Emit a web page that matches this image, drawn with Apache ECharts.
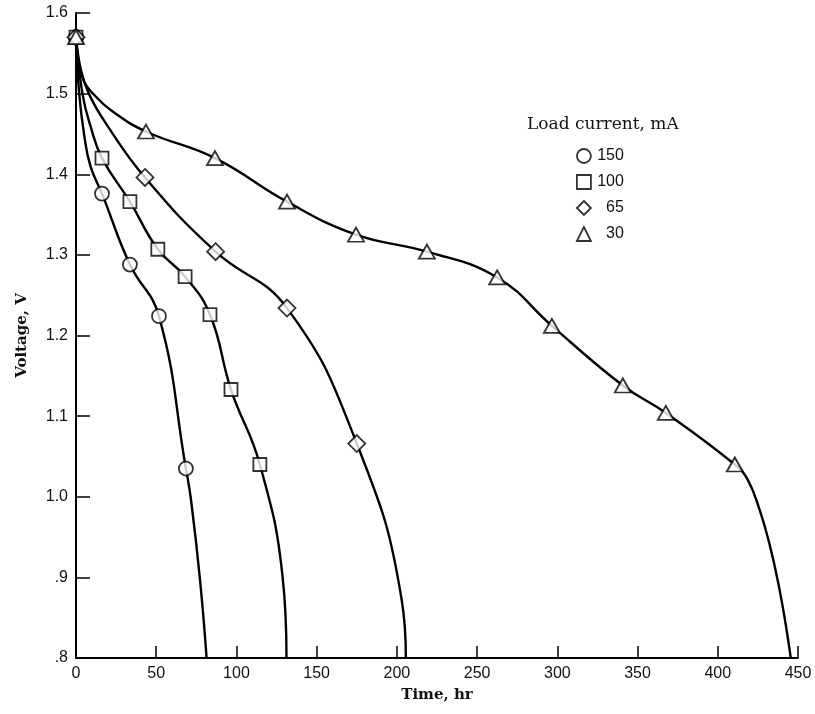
<!DOCTYPE html>
<html>
<head>
<meta charset="utf-8">
<script src="https://cdn.jsdelivr.net/npm/echarts@6/dist/echarts.min.js"></script>
<style>
html,body{margin:0;padding:0;background:#fff;}
#chart{width:815px;height:714px;}
</style>
</head>
<body>
<div id="chart"></div>
<script>
// Series names (load current, mA)
const seriesNames = ['150', '100', '65', '30'];

// Traced curve points [time hr, voltage V]
const curve150 = [[0,1.57],[2,1.5],[5,1.45],[9,1.41],[16.2,1.376],[33.6,1.288],[51.7,1.224],[68.5,1.035],[71.7,0.996],[77.3,0.897],[81.4,0.8]];
const curve100 = [[0,1.57],[4,1.5],[9,1.46],[16.2,1.42],[33.6,1.366],[51,1.307],[68,1.273],[83.5,1.226],[96.6,1.133],[114.6,1.04],[128.8,0.9],[131.2,0.8]];
const curve65  = [[0,1.57],[3,1.53],[8,1.5],[18,1.465],[43,1.396],[87,1.304],[131.5,1.234],[175,1.066],[203,0.872],[205.6,0.8]];
const curve30  = [[0,1.57],[1.5,1.54],[5,1.515],[10.6,1.5],[22,1.479],[43.6,1.453],[86.6,1.42],[131.5,1.366],[174.5,1.325],[218.7,1.304],[262.5,1.272],[296.6,1.212],[340.8,1.138],[367.6,1.104],[410.6,1.04],[418.7,1.021],[426.2,0.983],[432.4,0.94],[438,0.89],[442.4,0.841],[445.5,0.8]];

// Measured points (markers)
const marks150 = [[0,1.57],[16.2,1.376],[33.6,1.288],[51.7,1.224],[68.5,1.035]];
const marks100 = [[0,1.57],[16.2,1.42],[33.6,1.366],[51,1.307],[68,1.273],[83.5,1.226],[96.6,1.133],[114.6,1.04]];
const marks65  = [[0,1.57],[43,1.396],[87,1.304],[131.5,1.234],[175,1.066]];
const marks30  = [[0,1.57],[43.6,1.453],[86.6,1.42],[131.5,1.366],[174.5,1.325],[218.7,1.304],[262.5,1.272],[296.6,1.212],[340.8,1.138],[367.6,1.104],[410.6,1.04]];

// Axis ticks
const xTicks = [0, 50, 100, 150, 200, 250, 300, 350, 400, 450];
const yTickLabels = {'0.8':'.8','0.9':'.9','1.0':'1.0','1.1':'1.1','1.2':'1.2','1.3':'1.3','1.4':'1.4','1.5':'1.5','1.6':'1.6'};

const curves = [curve150, curve100, curve65, curve30];
const marks = [marks150, marks100, marks65, marks30];
const symbols = ['circle', 'rect', 'diamond', 'triangle'];
const symSizes = [14, 13, [17,17], [16,14]];

const chart = echarts.init(document.getElementById('chart'), null, {renderer:'canvas'});

const series = [];
curves.forEach((c, i) => {
  series.push({
    name: 'curve' + seriesNames[i],
    type: 'line',
    data: c,
    smooth: 0.45,
    showSymbol: false,
    symbol: 'none',
    lineStyle: {color:'#000', width:2.4},
    z: 2,
    silent: true
  });
});
marks.forEach((m, i) => {
  series.push({
    name: seriesNames[i],
    type: 'scatter',
    data: m,
    symbol: symbols[i],
    symbolSize: symSizes[i],
    itemStyle: {color:'#fff', borderColor:'#000', borderWidth:1.8},
    z: 3
  });
});

const tickFont = {fontFamily:'Liberation Sans', fontSize:16, color:'#111'};
const nameFont = {fontFamily:'DejaVu Serif', fontSize:15, color:'#111', fontWeight:'bold'};

chart.setOption({
  animation:false,
  backgroundColor:'#fff',
  title: {
    text:'Load current, mA',
    left: 522, top: 111,
    textStyle:{fontFamily:'DejaVu Serif', fontSize:17, fontWeight:'normal', color:'#111'}
  },
  legend: {
    data: seriesNames,
    orient:'vertical',
    left: 571, top: 143,
    itemWidth: 14, itemHeight: 14,
    itemGap: 10,
    itemStyle:{color:'#fff', borderColor:'#000', borderWidth:1.8},
    formatter: n => '{a|' + n + '}',
    textStyle: {
      fontFamily:'Liberation Sans', fontSize:16, color:'#111',
      rich: {a:{width:28, align:'right', fontFamily:'Liberation Sans', fontSize:16, color:'#111'}}
    }
  },
  grid: {left:76, right:17, top:13, bottom:56, containLabel:false},
  xAxis: {
    type:'value', min:0, max:450, interval:50,
    name:'Time, hr', nameLocation:'middle', nameGap:30,
    nameTextStyle: nameFont,
    axisLine:{show:true, lineStyle:{color:'#000', width:2}},
    axisTick:{show:true, inside:true, length:12, lineStyle:{color:'#000', width:1.5}},
    axisLabel:Object.assign({margin:8}, tickFont),
    splitLine:{show:false}
  },
  yAxis: {
    type:'value', min:0.8, max:1.6, interval:0.1,
    name:'Voltage, V', nameLocation:'middle', nameGap:46,
    nameTextStyle: nameFont,
    axisLine:{show:true, lineStyle:{color:'#000', width:2}},
    axisTick:{show:true, inside:true, length:14, lineStyle:{color:'#000', width:1.5}},
    axisLabel:Object.assign({margin:8, formatter: v => yTickLabels[v.toFixed(1)] || v.toFixed(1)}, tickFont),
    splitLine:{show:false}
  },
  series: series
});
</script>
</body>
</html>
